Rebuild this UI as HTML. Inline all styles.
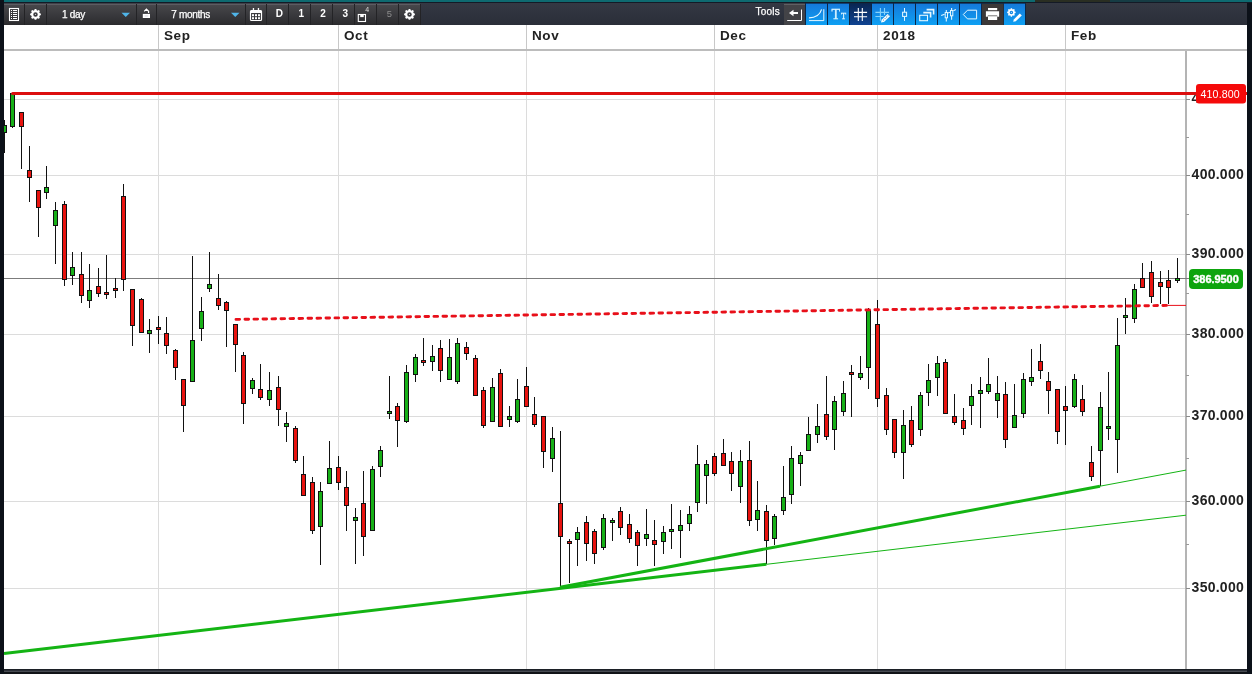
<!DOCTYPE html>
<html><head><meta charset="utf-8"><title>Chart</title><style>
*{margin:0;padding:0}
html,body{width:1252px;height:674px;overflow:hidden;background:#0c1119}
svg{position:absolute;left:0;top:0;display:block}
text{font-family:"Liberation Sans",Arial,sans-serif}
.dl{font-size:13.5px;font-weight:bold;fill:#222;letter-spacing:0.62px}
.yl{font-size:14px;font-weight:bold;fill:#222;letter-spacing:0.25px}
.rl{font-size:10.6px;fill:#fff;text-anchor:middle;letter-spacing:0.15px}
.gl{font-size:11px;font-weight:bold;fill:#fff;stroke:#fff;stroke-width:0.4px;text-anchor:middle;letter-spacing:-0.05px}
.tt{font-size:10px;fill:#fff;stroke:#fff;stroke-width:0.25px;letter-spacing:-0.3px}
.tb{font-size:10px;font-weight:bold;fill:#fff}
.t4{font-size:7px;fill:#ddd}
.t5{font-size:9.4px;fill:#8c8c8c}
.tT{font-family:"Liberation Serif",serif;font-size:14px;fill:#d8f4ff;stroke:#d8f4ff;stroke-width:0.35px}
.tt2{font-family:"Liberation Serif",serif;font-size:8.4px;fill:#d8f4ff;stroke:#d8f4ff;stroke-width:0.3px}
</style></head>
<body>
<svg width="1252" height="674" viewBox="0 0 1252 674">
<rect x="0" y="0" width="1252" height="674" fill="#0c1119"/>
<defs><linearGradient id="tg" x1="0" y1="0" x2="0" y2="1"><stop offset="0" stop-color="#49494d"/><stop offset="1" stop-color="#2b2b2e"/></linearGradient><linearGradient id="bg" x1="0" y1="0" x2="0" y2="1"><stop offset="0" stop-color="#1579da"/><stop offset="1" stop-color="#0ea0f3"/></linearGradient></defs><rect x="0" y="0" width="1252" height="2.2" fill="#0e6a70"/><rect x="1035" y="0" width="75" height="2" fill="#2a2e22"/><rect x="1110" y="0" width="70" height="2" fill="#163c44"/><rect x="0" y="2" width="1252" height="1.5" fill="#141a26"/><linearGradient id="sg" x1="0" y1="0" x2="0" y2="1"><stop offset="0" stop-color="#343843"/><stop offset="1" stop-color="#2a2e38"/></linearGradient><rect x="0" y="3" width="1252" height="22" fill="url(#sg)"/><rect x="4" y="3.5" width="416" height="21.5" fill="url(#tg)"/><rect x="4" y="4" width="416" height="1" fill="#5d5c62"/><rect x="24" y="4" width="1" height="21" fill="#232326"/><rect x="46" y="4" width="1" height="21" fill="#232326"/><rect x="136" y="4" width="1" height="21" fill="#232326"/><rect x="156" y="4" width="1" height="21" fill="#232326"/><rect x="245" y="4" width="1" height="21" fill="#232326"/><rect x="266" y="4" width="1" height="21" fill="#232326"/><rect x="288" y="4" width="1" height="21" fill="#232326"/><rect x="310" y="4" width="1" height="21" fill="#232326"/><rect x="332" y="4" width="1" height="21" fill="#232326"/><rect x="354" y="4" width="1" height="21" fill="#232326"/><rect x="376" y="4" width="1" height="21" fill="#232326"/><rect x="398" y="4" width="1" height="21" fill="#232326"/><rect x="420" y="4" width="1" height="21" fill="#232326"/><rect x="9.5" y="8.5" width="9" height="12" fill="none" stroke="#fff" stroke-width="1.1"/><rect x="11" y="10" width="1" height="1" fill="#fff"/><rect x="13" y="10" width="4" height="1" fill="#fff"/><rect x="11" y="12" width="1" height="1" fill="#fff"/><rect x="13" y="12" width="4" height="1" fill="#fff"/><rect x="11" y="14" width="1" height="1" fill="#fff"/><rect x="13" y="14" width="4" height="1" fill="#fff"/><rect x="11" y="16" width="1" height="1" fill="#fff"/><rect x="13" y="16" width="4" height="1" fill="#fff"/><rect x="11" y="18" width="1" height="1" fill="#fff"/><rect x="13" y="18" width="4" height="1" fill="#fff"/><path d="M34.80 9.01 L36.20 9.01 L37.04 10.67 L38.81 10.09 L39.81 11.09 L39.23 12.86 L40.89 13.70 L40.89 15.10 L39.23 15.94 L39.81 17.71 L38.81 18.71 L37.04 18.13 L36.20 19.79 L34.80 19.79 L33.96 18.13 L32.19 18.71 L31.19 17.71 L31.77 15.94 L30.11 15.10 L30.11 13.70 L31.77 12.86 L31.19 11.09 L32.19 10.09 L33.96 10.67 Z M37.74 14.40 A2.24 2.24 0 1 0 33.26 14.40 A2.24 2.24 0 1 0 37.74 14.40 Z" fill="#fff" fill-rule="evenodd"/><circle cx="35.5" cy="14.4" r="0.67" fill="#fff" opacity="0.7"/><path d="M408.80 9.01 L410.20 9.01 L411.04 10.67 L412.81 10.09 L413.81 11.09 L413.23 12.86 L414.89 13.70 L414.89 15.10 L413.23 15.94 L413.81 17.71 L412.81 18.71 L411.04 18.13 L410.20 19.79 L408.80 19.79 L407.96 18.13 L406.19 18.71 L405.19 17.71 L405.77 15.94 L404.11 15.10 L404.11 13.70 L405.77 12.86 L405.19 11.09 L406.19 10.09 L407.96 10.67 Z M411.74 14.40 A2.24 2.24 0 1 0 407.26 14.40 A2.24 2.24 0 1 0 411.74 14.40 Z" fill="#fff" fill-rule="evenodd"/><circle cx="409.5" cy="14.4" r="0.67" fill="#fff" opacity="0.7"/><text x="62" y="17.8" class="tt">1 day</text><path d="M121.5 12.8 L130 12.8 L125.75 17 Z" fill="#4fb4e8"/><rect x="142.8" y="13.9" width="7.2" height="4.1" fill="#fff"/><rect x="144.5" y="15.2" width="3.8" height="1.5" fill="#e4e4ea"/><path d="M144.2 11.4 L146.4 9.2 L148.6 11.2 V12.9" fill="none" stroke="#fff" stroke-width="1.2"/><text x="171.3" y="17.8" class="tt">7 months</text><path d="M231 12.8 L239.5 12.8 L235.25 17 Z" fill="#4fb4e8"/><rect x="250.5" y="10.5" width="11" height="10" rx="1" fill="none" stroke="#fff" stroke-width="1.2"/><rect x="250.5" y="10.5" width="11" height="2.5" fill="#fff"/><rect x="252.8" y="8" width="1.3" height="3.5" fill="#fff"/><rect x="257.8" y="8" width="1.3" height="3.5" fill="#fff"/><rect x="252" y="14.2" width="2" height="2" fill="#fff"/><rect x="252" y="17.2" width="2" height="2" fill="#fff"/><rect x="255" y="14.2" width="2" height="2" fill="#fff"/><rect x="255" y="17.2" width="2" height="2" fill="#fff"/><rect x="258" y="14.2" width="2" height="2" fill="#fff"/><rect x="258" y="17.2" width="2" height="2" fill="#fff"/><text x="275.8" y="17.3" class="tb">D</text><text x="298.6" y="17.3" class="tb">1</text><text x="320.2" y="17.3" class="tb">2</text><text x="342.5" y="17.3" class="tb">3</text><rect x="358.3" y="14.5" width="7.2" height="7" fill="none" stroke="#fff" stroke-width="1.1"/><rect x="360.2" y="14.5" width="3.5" height="2.6" fill="#fff"/><text x="365.3" y="11.6" class="t4">4</text><text x="386.8" y="17.3" class="t5">5</text><text x="755.6" y="14.8" class="tt" style="letter-spacing:0.2px">Tools</text><rect x="784" y="3.5" width="21" height="21.5" fill="#434347"/><rect x="784" y="4" width="21" height="1" fill="#606064"/><path d="M789 13 L793.5 9.8 V12 H798 V14 H793.5 V16.2 Z" fill="#fff"/><path d="M801.5 9.5 V20.5 H787.2" fill="none" stroke="#fff" stroke-width="1"/><rect x="805" y="3" width="221" height="22" fill="#0b2747"/><rect x="806" y="3.7" width="21" height="21.3" fill="url(#bg)"/><rect x="828" y="3.7" width="21" height="21.3" fill="url(#bg)"/><rect x="872" y="3.7" width="21" height="21.3" fill="url(#bg)"/><rect x="894" y="3.7" width="21" height="21.3" fill="url(#bg)"/><rect x="916" y="3.7" width="21" height="21.3" fill="url(#bg)"/><rect x="938" y="3.7" width="21" height="21.3" fill="url(#bg)"/><rect x="960" y="3.7" width="21" height="21.3" fill="url(#bg)"/><rect x="1004" y="3.7" width="21" height="21.3" fill="url(#bg)"/><linearGradient id="dg" x1="0" y1="0" x2="0" y2="1"><stop offset="0" stop-color="#0a2652"/><stop offset="1" stop-color="#0e4391"/></linearGradient><rect x="850" y="3.7" width="21" height="21.3" fill="url(#dg)"/><rect x="982" y="3.7" width="21.5" height="21.3" fill="#3b3838"/><path d="M809 17.8 C814.5 17.8 819.5 16.5 821.6 9.4" fill="none" stroke="#e6f8ff" stroke-width="1.2"/><path d="M823.8 9.2 V20.6 H809" fill="none" stroke="#e6f8ff" stroke-width="1"/><text x="831.6" y="19.2" class="tT">T</text><text x="841" y="19.2" class="tt2">T</text><path d="M858.3 8 V20.9 M862.3 8 V20.9 M854 12.4 H867.1 M854 16.8 H867.1" stroke="#fff" stroke-width="1.1" fill="none"/><path d="M880.4 8 V20.8 M884.5 8 V15 M875.4 12.4 H889 M875.4 16.5 H883.5" stroke="#86d2fb" stroke-width="1.1" fill="none"/><path d="M881 22.4 L881.6 19.8 L887.6 13.9 L890 16.2 L884 22 Z" fill="#f4fcff"/><path d="M883.2 20.4 L888 15.6" stroke="#1a4f7a" stroke-width="0.8" stroke-dasharray="1 1"/><path d="M904.5 8 V20.9" stroke="#e6f8ff" stroke-width="1" fill="none"/><rect x="902.6" y="12.2" width="4" height="4.2" fill="#1890e8" stroke="#e6f8ff" stroke-width="1"/><rect x="919.7" y="15.3" width="7.8" height="5.4" fill="none" stroke="#e6f8ff" stroke-width="1.1"/><path d="M923.3 12.6 H930.6 V17.6 M926.6 9.6 H933.6 V14.6" fill="none" stroke="#e6f8ff" stroke-width="1.6"/><path d="M946.3 10 V21.5 M951.6 8 V19.8" stroke="#e6f8ff" stroke-width="1.1" fill="none"/><rect x="945.2" y="12.5" width="2.3" height="5.3" fill="#1590e6" stroke="#e6f8ff" stroke-width="1"/><rect x="950.5" y="10.5" width="2.3" height="5.3" fill="#1590e6" stroke="#e6f8ff" stroke-width="1"/><path d="M941.2 15.6 L944.6 14.3 M948 13 L950 12.2 M953.4 10.8 L955.9 9.6" stroke="#e6f8ff" stroke-width="1.1" fill="none"/><path d="M963.3 14.5 L967.5 10.2 H976.6 V18.9 H967.5 Z" fill="none" stroke="#e6f8ff" stroke-width="1"/><rect x="988" y="8" width="9.2" height="2.2" fill="#fff"/><path d="M985.9 11.2 H999.1 V16.8 H997.2 V15.4 H987.8 V16.8 H985.9 Z" fill="#fff"/><rect x="988" y="16.2" width="9.2" height="3.8" fill="#fff"/><path d="M1010.85 8.17 L1011.95 8.17 L1012.61 9.47 L1014.00 9.02 L1014.78 9.80 L1014.33 11.19 L1015.63 11.85 L1015.63 12.95 L1014.33 13.61 L1014.78 15.00 L1014.00 15.78 L1012.61 15.33 L1011.95 16.63 L1010.85 16.63 L1010.19 15.33 L1008.80 15.78 L1008.02 15.00 L1008.47 13.61 L1007.17 12.95 L1007.17 11.85 L1008.47 11.19 L1008.02 9.80 L1008.80 9.02 L1010.19 9.47 Z M1013.16 12.40 A1.76 1.76 0 1 0 1009.64 12.40 A1.76 1.76 0 1 0 1013.16 12.40 Z" fill="#fff" fill-rule="evenodd"/><circle cx="1011.4" cy="12.4" r="0.53" fill="#fff" opacity="0.7"/><path d="M1013.2 21.8 L1013.8 19.4 L1019.8 13.6 L1021.8 15.4 L1015.8 21.2 Z" fill="#fff"/>
<clipPath id="c410"><rect x="1186" y="80" width="10.5" height="30"/></clipPath><rect x="4" y="25" width="1243" height="644" fill="#ffffff"/><rect x="4" y="49" width="1243" height="2" fill="#bcbcbc"/><rect x="158" y="25" width="1" height="24" fill="#c8c8c8"/><rect x="158" y="51" width="1" height="618" fill="#dcdcdc"/><text x="164" y="39.6" class="dl">Sep</text><rect x="338" y="25" width="1" height="24" fill="#c8c8c8"/><rect x="338" y="51" width="1" height="618" fill="#dcdcdc"/><text x="344" y="39.6" class="dl">Oct</text><rect x="526" y="25" width="1" height="24" fill="#c8c8c8"/><rect x="526" y="51" width="1" height="618" fill="#dcdcdc"/><text x="532" y="39.6" class="dl">Nov</text><rect x="714" y="25" width="1" height="24" fill="#c8c8c8"/><rect x="714" y="51" width="1" height="618" fill="#dcdcdc"/><text x="720" y="39.6" class="dl">Dec</text><rect x="877" y="25" width="1" height="24" fill="#c8c8c8"/><rect x="877" y="51" width="1" height="618" fill="#dcdcdc"/><text x="883" y="39.6" class="dl">2018</text><rect x="1065" y="25" width="1" height="24" fill="#c8c8c8"/><rect x="1065" y="51" width="1" height="618" fill="#dcdcdc"/><text x="1071" y="39.6" class="dl">Feb</text><rect x="4" y="99" width="1182" height="1" fill="#dcdcdc"/><rect x="4" y="175" width="1182" height="1" fill="#dcdcdc"/><rect x="4" y="254" width="1182" height="1" fill="#dcdcdc"/><rect x="4" y="334" width="1182" height="1" fill="#dcdcdc"/><rect x="4" y="416" width="1182" height="1" fill="#dcdcdc"/><rect x="4" y="501" width="1182" height="1" fill="#dcdcdc"/><rect x="4" y="588" width="1182" height="1" fill="#dcdcdc"/><rect x="1185" y="51" width="2" height="618" fill="#b4b4b4"/><rect x="1186" y="99" width="4" height="1" fill="#8a8a8a"/><text x="1191.6" y="103.0" class="yl" clip-path="url(#c410)">410.000</text><rect x="1186" y="175" width="4" height="1" fill="#8a8a8a"/><text x="1191.6" y="179.0" class="yl">400.000</text><rect x="1186" y="254" width="4" height="1" fill="#8a8a8a"/><text x="1191.6" y="258.0" class="yl">390.000</text><rect x="1186" y="334" width="4" height="1" fill="#8a8a8a"/><text x="1191.6" y="338.0" class="yl">380.000</text><rect x="1186" y="416" width="4" height="1" fill="#8a8a8a"/><text x="1191.6" y="420.0" class="yl">370.000</text><rect x="1186" y="501" width="4" height="1" fill="#8a8a8a"/><text x="1191.6" y="505.0" class="yl">360.000</text><rect x="1186" y="588" width="4" height="1" fill="#8a8a8a"/><text x="1191.6" y="592.0" class="yl">350.000</text><rect x="1186" y="137" width="3" height="1" fill="#9a9a9a"/><rect x="1186" y="214" width="3" height="1" fill="#9a9a9a"/><rect x="1186" y="293" width="3" height="1" fill="#9a9a9a"/><rect x="1186" y="375" width="3" height="1" fill="#9a9a9a"/><rect x="1186" y="458" width="3" height="1" fill="#9a9a9a"/><rect x="1186" y="544" width="3" height="1" fill="#9a9a9a"/><rect x="4" y="278" width="1186" height="1" fill="#7c7c7c"/><g shape-rendering="crispEdges"><rect x="4" y="120" width="1" height="33" fill="#111"/><rect x="2.5" y="125.5" width="4" height="7" fill="#17b017" stroke="#111" stroke-width="1"/><rect x="12" y="93" width="1" height="35" fill="#111"/><rect x="10.5" y="93.5" width="4" height="33" fill="#17b017" stroke="#111" stroke-width="1"/><rect x="21" y="112" width="1" height="57" fill="#111"/><rect x="19.5" y="112.5" width="4" height="14" fill="#e8130f" stroke="#111" stroke-width="1"/><rect x="29" y="146" width="1" height="56" fill="#111"/><rect x="27.5" y="170.5" width="4" height="7" fill="#e8130f" stroke="#111" stroke-width="1"/><rect x="38" y="190" width="1" height="47" fill="#111"/><rect x="36.5" y="190.5" width="4" height="17" fill="#e8130f" stroke="#111" stroke-width="1"/><rect x="46" y="166" width="1" height="33" fill="#111"/><rect x="44.5" y="187.5" width="4" height="5" fill="#17b017" stroke="#111" stroke-width="1"/><rect x="55" y="202" width="1" height="62" fill="#111"/><rect x="53.5" y="210.5" width="4" height="15" fill="#17b017" stroke="#111" stroke-width="1"/><rect x="64" y="201" width="1" height="85" fill="#111"/><rect x="62.5" y="204.5" width="4" height="75" fill="#e8130f" stroke="#111" stroke-width="1"/><rect x="72" y="252" width="1" height="33" fill="#111"/><rect x="70.5" y="267.5" width="4" height="8" fill="#17b017" stroke="#111" stroke-width="1"/><rect x="81" y="252" width="1" height="51" fill="#111"/><rect x="79.5" y="274.5" width="4" height="21" fill="#e8130f" stroke="#111" stroke-width="1"/><rect x="89" y="264" width="1" height="44" fill="#111"/><rect x="87.5" y="290.5" width="4" height="10" fill="#17b017" stroke="#111" stroke-width="1"/><rect x="98" y="268" width="1" height="29" fill="#111"/><rect x="96.5" y="286.5" width="4" height="7" fill="#e8130f" stroke="#111" stroke-width="1"/><rect x="106" y="255" width="1" height="44" fill="#111"/><rect x="104.5" y="292.5" width="4" height="2" fill="#e8130f" stroke="#111" stroke-width="1"/><rect x="115" y="278" width="1" height="20" fill="#111"/><rect x="113.5" y="288.5" width="4" height="2" fill="#e8130f" stroke="#111" stroke-width="1"/><rect x="123" y="184" width="1" height="107" fill="#111"/><rect x="121.5" y="196.5" width="4" height="83" fill="#e8130f" stroke="#111" stroke-width="1"/><rect x="132" y="289" width="1" height="57" fill="#111"/><rect x="130.5" y="289.5" width="4" height="36" fill="#e8130f" stroke="#111" stroke-width="1"/><rect x="141" y="298" width="1" height="35" fill="#111"/><rect x="139.5" y="299.5" width="4" height="33" fill="#e8130f" stroke="#111" stroke-width="1"/><rect x="149" y="319" width="1" height="34" fill="#111"/><rect x="147.5" y="330.5" width="4" height="3" fill="#17b017" stroke="#111" stroke-width="1"/><rect x="158" y="316" width="1" height="28" fill="#111"/><rect x="156.5" y="327.5" width="4" height="2" fill="#e8130f" stroke="#111" stroke-width="1"/><rect x="166" y="317" width="1" height="37" fill="#111"/><rect x="164.5" y="333.5" width="4" height="12" fill="#e8130f" stroke="#111" stroke-width="1"/><rect x="175" y="349" width="1" height="31" fill="#111"/><rect x="173.5" y="350.5" width="4" height="17" fill="#e8130f" stroke="#111" stroke-width="1"/><rect x="183" y="379" width="1" height="53" fill="#111"/><rect x="181.5" y="379.5" width="4" height="26" fill="#e8130f" stroke="#111" stroke-width="1"/><rect x="192" y="256" width="1" height="126" fill="#111"/><rect x="190.5" y="340.5" width="4" height="41" fill="#17b017" stroke="#111" stroke-width="1"/><rect x="201" y="297" width="1" height="44" fill="#111"/><rect x="199.5" y="311.5" width="4" height="17" fill="#17b017" stroke="#111" stroke-width="1"/><rect x="209" y="252" width="1" height="40" fill="#111"/><rect x="207.5" y="284.5" width="4" height="4" fill="#17b017" stroke="#111" stroke-width="1"/><rect x="218" y="274" width="1" height="36" fill="#111"/><rect x="216.5" y="298.5" width="4" height="7" fill="#e8130f" stroke="#111" stroke-width="1"/><rect x="226" y="301" width="1" height="46" fill="#111"/><rect x="224.5" y="302.5" width="4" height="8" fill="#e8130f" stroke="#111" stroke-width="1"/><rect x="235" y="324" width="1" height="48" fill="#111"/><rect x="233.5" y="324.5" width="4" height="20" fill="#e8130f" stroke="#111" stroke-width="1"/><rect x="243" y="352" width="1" height="72" fill="#111"/><rect x="241.5" y="355.5" width="4" height="48" fill="#e8130f" stroke="#111" stroke-width="1"/><rect x="252" y="378" width="1" height="16" fill="#111"/><rect x="250.5" y="380.5" width="4" height="8" fill="#17b017" stroke="#111" stroke-width="1"/><rect x="260" y="364" width="1" height="36" fill="#111"/><rect x="258.5" y="389.5" width="4" height="8" fill="#e8130f" stroke="#111" stroke-width="1"/><rect x="269" y="372" width="1" height="34" fill="#111"/><rect x="267.5" y="390.5" width="4" height="9" fill="#17b017" stroke="#111" stroke-width="1"/><rect x="278" y="376" width="1" height="50" fill="#111"/><rect x="276.5" y="387.5" width="4" height="22" fill="#e8130f" stroke="#111" stroke-width="1"/><rect x="286" y="412" width="1" height="30" fill="#111"/><rect x="284.5" y="423.5" width="4" height="3" fill="#17b017" stroke="#111" stroke-width="1"/><rect x="295" y="426" width="1" height="37" fill="#111"/><rect x="293.5" y="428.5" width="4" height="32" fill="#e8130f" stroke="#111" stroke-width="1"/><rect x="303" y="456" width="1" height="40" fill="#111"/><rect x="301.5" y="474.5" width="4" height="21" fill="#e8130f" stroke="#111" stroke-width="1"/><rect x="312" y="477" width="1" height="57" fill="#111"/><rect x="310.5" y="482.5" width="4" height="48" fill="#e8130f" stroke="#111" stroke-width="1"/><rect x="320" y="482" width="1" height="83" fill="#111"/><rect x="318.5" y="491.5" width="4" height="35" fill="#17b017" stroke="#111" stroke-width="1"/><rect x="329" y="441" width="1" height="43" fill="#111"/><rect x="327.5" y="468.5" width="4" height="15" fill="#17b017" stroke="#111" stroke-width="1"/><rect x="338" y="456" width="1" height="34" fill="#111"/><rect x="336.5" y="467.5" width="4" height="15" fill="#e8130f" stroke="#111" stroke-width="1"/><rect x="346" y="471" width="1" height="60" fill="#111"/><rect x="344.5" y="487.5" width="4" height="18" fill="#e8130f" stroke="#111" stroke-width="1"/><rect x="355" y="508" width="1" height="56" fill="#111"/><rect x="353.5" y="517.5" width="4" height="3" fill="#17b017" stroke="#111" stroke-width="1"/><rect x="363" y="471" width="1" height="85" fill="#111"/><rect x="361.5" y="503.5" width="4" height="33" fill="#e8130f" stroke="#111" stroke-width="1"/><rect x="372" y="466" width="1" height="65" fill="#111"/><rect x="370.5" y="469.5" width="4" height="61" fill="#17b017" stroke="#111" stroke-width="1"/><rect x="380" y="446" width="1" height="31" fill="#111"/><rect x="378.5" y="450.5" width="4" height="16" fill="#17b017" stroke="#111" stroke-width="1"/><rect x="389" y="376" width="1" height="43" fill="#111"/><rect x="387.5" y="411.5" width="4" height="2" fill="#17b017" stroke="#111" stroke-width="1"/><rect x="397" y="403" width="1" height="44" fill="#111"/><rect x="395.5" y="406.5" width="4" height="14" fill="#e8130f" stroke="#111" stroke-width="1"/><rect x="406" y="365" width="1" height="58" fill="#111"/><rect x="404.5" y="372.5" width="4" height="49" fill="#17b017" stroke="#111" stroke-width="1"/><rect x="415" y="354" width="1" height="28" fill="#111"/><rect x="413.5" y="357.5" width="4" height="17" fill="#17b017" stroke="#111" stroke-width="1"/><rect x="423" y="338" width="1" height="28" fill="#111"/><rect x="421.5" y="360.5" width="4" height="2" fill="#e8130f" stroke="#111" stroke-width="1"/><rect x="432" y="345" width="1" height="26" fill="#111"/><rect x="430.5" y="356.5" width="4" height="5" fill="#17b017" stroke="#111" stroke-width="1"/><rect x="440" y="340" width="1" height="42" fill="#111"/><rect x="438.5" y="348.5" width="4" height="22" fill="#e8130f" stroke="#111" stroke-width="1"/><rect x="449" y="339" width="1" height="41" fill="#111"/><rect x="447.5" y="357.5" width="4" height="22" fill="#17b017" stroke="#111" stroke-width="1"/><rect x="457" y="338" width="1" height="46" fill="#111"/><rect x="455.5" y="343.5" width="4" height="38" fill="#17b017" stroke="#111" stroke-width="1"/><rect x="466" y="342" width="1" height="18" fill="#111"/><rect x="464.5" y="347.5" width="4" height="6" fill="#e8130f" stroke="#111" stroke-width="1"/><rect x="475" y="355" width="1" height="41" fill="#111"/><rect x="473.5" y="358.5" width="4" height="37" fill="#e8130f" stroke="#111" stroke-width="1"/><rect x="483" y="387" width="1" height="41" fill="#111"/><rect x="481.5" y="390.5" width="4" height="35" fill="#e8130f" stroke="#111" stroke-width="1"/><rect x="492" y="378" width="1" height="44" fill="#111"/><rect x="490.5" y="387.5" width="4" height="34" fill="#17b017" stroke="#111" stroke-width="1"/><rect x="500" y="369" width="1" height="58" fill="#111"/><rect x="498.5" y="373.5" width="4" height="53" fill="#e8130f" stroke="#111" stroke-width="1"/><rect x="509" y="406" width="1" height="21" fill="#111"/><rect x="507.5" y="416.5" width="4" height="3" fill="#17b017" stroke="#111" stroke-width="1"/><rect x="517" y="379" width="1" height="44" fill="#111"/><rect x="515.5" y="399.5" width="4" height="22" fill="#17b017" stroke="#111" stroke-width="1"/><rect x="526" y="367" width="1" height="40" fill="#111"/><rect x="524.5" y="386.5" width="4" height="20" fill="#e8130f" stroke="#111" stroke-width="1"/><rect x="534" y="397" width="1" height="30" fill="#111"/><rect x="532.5" y="414.5" width="4" height="10" fill="#e8130f" stroke="#111" stroke-width="1"/><rect x="543" y="416" width="1" height="52" fill="#111"/><rect x="541.5" y="416.5" width="4" height="35" fill="#e8130f" stroke="#111" stroke-width="1"/><rect x="552" y="427" width="1" height="45" fill="#111"/><rect x="550.5" y="438.5" width="4" height="20" fill="#17b017" stroke="#111" stroke-width="1"/><rect x="560" y="431" width="1" height="155" fill="#111"/><rect x="558.5" y="503.5" width="4" height="33" fill="#e8130f" stroke="#111" stroke-width="1"/><rect x="569" y="539" width="1" height="44" fill="#111"/><rect x="567.5" y="541.5" width="4" height="2" fill="#e8130f" stroke="#111" stroke-width="1"/><rect x="577" y="527" width="1" height="39" fill="#111"/><rect x="575.5" y="532.5" width="4" height="7" fill="#17b017" stroke="#111" stroke-width="1"/><rect x="586" y="516" width="1" height="45" fill="#111"/><rect x="584.5" y="522.5" width="4" height="21" fill="#e8130f" stroke="#111" stroke-width="1"/><rect x="594" y="529" width="1" height="35" fill="#111"/><rect x="592.5" y="531.5" width="4" height="22" fill="#e8130f" stroke="#111" stroke-width="1"/><rect x="603" y="514" width="1" height="36" fill="#111"/><rect x="601.5" y="518.5" width="4" height="29" fill="#17b017" stroke="#111" stroke-width="1"/><rect x="612" y="518" width="1" height="23" fill="#111"/><rect x="610.5" y="520.5" width="4" height="2" fill="#17b017" stroke="#111" stroke-width="1"/><rect x="620" y="507" width="1" height="28" fill="#111"/><rect x="618.5" y="511.5" width="4" height="16" fill="#e8130f" stroke="#111" stroke-width="1"/><rect x="629" y="514" width="1" height="29" fill="#111"/><rect x="627.5" y="524.5" width="4" height="14" fill="#e8130f" stroke="#111" stroke-width="1"/><rect x="637" y="530" width="1" height="36" fill="#111"/><rect x="635.5" y="532.5" width="4" height="13" fill="#e8130f" stroke="#111" stroke-width="1"/><rect x="646" y="509" width="1" height="37" fill="#111"/><rect x="644.5" y="534.5" width="4" height="4" fill="#17b017" stroke="#111" stroke-width="1"/><rect x="654" y="520" width="1" height="46" fill="#111"/><rect x="652.5" y="540.5" width="4" height="4" fill="#e8130f" stroke="#111" stroke-width="1"/><rect x="663" y="526" width="1" height="28" fill="#111"/><rect x="661.5" y="532.5" width="4" height="9" fill="#17b017" stroke="#111" stroke-width="1"/><rect x="671" y="504" width="1" height="45" fill="#111"/><rect x="669.5" y="529.5" width="4" height="2" fill="#17b017" stroke="#111" stroke-width="1"/><rect x="680" y="510" width="1" height="48" fill="#111"/><rect x="678.5" y="525.5" width="4" height="5" fill="#17b017" stroke="#111" stroke-width="1"/><rect x="689" y="506" width="1" height="25" fill="#111"/><rect x="687.5" y="514.5" width="4" height="9" fill="#17b017" stroke="#111" stroke-width="1"/><rect x="697" y="445" width="1" height="67" fill="#111"/><rect x="695.5" y="464.5" width="4" height="38" fill="#17b017" stroke="#111" stroke-width="1"/><rect x="706" y="460" width="1" height="44" fill="#111"/><rect x="704.5" y="464.5" width="4" height="11" fill="#17b017" stroke="#111" stroke-width="1"/><rect x="714" y="453" width="1" height="23" fill="#111"/><rect x="712.5" y="456.5" width="4" height="17" fill="#e8130f" stroke="#111" stroke-width="1"/><rect x="723" y="439" width="1" height="27" fill="#111"/><rect x="721.5" y="453.5" width="4" height="12" fill="#e8130f" stroke="#111" stroke-width="1"/><rect x="731" y="452" width="1" height="39" fill="#111"/><rect x="729.5" y="461.5" width="4" height="12" fill="#e8130f" stroke="#111" stroke-width="1"/><rect x="740" y="450" width="1" height="53" fill="#111"/><rect x="738.5" y="461.5" width="4" height="25" fill="#17b017" stroke="#111" stroke-width="1"/><rect x="749" y="441" width="1" height="85" fill="#111"/><rect x="747.5" y="460.5" width="4" height="60" fill="#e8130f" stroke="#111" stroke-width="1"/><rect x="757" y="481" width="1" height="50" fill="#111"/><rect x="755.5" y="510.5" width="4" height="9" fill="#17b017" stroke="#111" stroke-width="1"/><rect x="766" y="505" width="1" height="59" fill="#111"/><rect x="764.5" y="511.5" width="4" height="29" fill="#e8130f" stroke="#111" stroke-width="1"/><rect x="774" y="514" width="1" height="31" fill="#111"/><rect x="772.5" y="516.5" width="4" height="22" fill="#17b017" stroke="#111" stroke-width="1"/><rect x="783" y="466" width="1" height="49" fill="#111"/><rect x="781.5" y="497.5" width="4" height="13" fill="#17b017" stroke="#111" stroke-width="1"/><rect x="791" y="446" width="1" height="58" fill="#111"/><rect x="789.5" y="458.5" width="4" height="36" fill="#17b017" stroke="#111" stroke-width="1"/><rect x="800" y="452" width="1" height="34" fill="#111"/><rect x="798.5" y="455.5" width="4" height="8" fill="#17b017" stroke="#111" stroke-width="1"/><rect x="808" y="417" width="1" height="34" fill="#111"/><rect x="806.5" y="434.5" width="4" height="16" fill="#17b017" stroke="#111" stroke-width="1"/><rect x="817" y="404" width="1" height="39" fill="#111"/><rect x="815.5" y="426.5" width="4" height="8" fill="#17b017" stroke="#111" stroke-width="1"/><rect x="826" y="376" width="1" height="64" fill="#111"/><rect x="824.5" y="414.5" width="4" height="22" fill="#e8130f" stroke="#111" stroke-width="1"/><rect x="834" y="396" width="1" height="54" fill="#111"/><rect x="832.5" y="401.5" width="4" height="28" fill="#17b017" stroke="#111" stroke-width="1"/><rect x="843" y="381" width="1" height="35" fill="#111"/><rect x="841.5" y="393.5" width="4" height="18" fill="#17b017" stroke="#111" stroke-width="1"/><rect x="851" y="365" width="1" height="52" fill="#111"/><rect x="849.5" y="372.5" width="4" height="2" fill="#e8130f" stroke="#111" stroke-width="1"/><rect x="860" y="356" width="1" height="24" fill="#111"/><rect x="858.5" y="373.5" width="4" height="4" fill="#17b017" stroke="#111" stroke-width="1"/><rect x="868" y="308" width="1" height="81" fill="#111"/><rect x="866.5" y="310.5" width="4" height="57" fill="#17b017" stroke="#111" stroke-width="1"/><rect x="877" y="300" width="1" height="107" fill="#111"/><rect x="875.5" y="324.5" width="4" height="74" fill="#e8130f" stroke="#111" stroke-width="1"/><rect x="886" y="388" width="1" height="47" fill="#111"/><rect x="884.5" y="395.5" width="4" height="34" fill="#e8130f" stroke="#111" stroke-width="1"/><rect x="894" y="419" width="1" height="39" fill="#111"/><rect x="892.5" y="419.5" width="4" height="33" fill="#e8130f" stroke="#111" stroke-width="1"/><rect x="903" y="410" width="1" height="69" fill="#111"/><rect x="901.5" y="425.5" width="4" height="27" fill="#17b017" stroke="#111" stroke-width="1"/><rect x="911" y="406" width="1" height="41" fill="#111"/><rect x="909.5" y="420.5" width="4" height="24" fill="#e8130f" stroke="#111" stroke-width="1"/><rect x="920" y="392" width="1" height="44" fill="#111"/><rect x="918.5" y="395.5" width="4" height="34" fill="#17b017" stroke="#111" stroke-width="1"/><rect x="928" y="364" width="1" height="42" fill="#111"/><rect x="926.5" y="380.5" width="4" height="12" fill="#17b017" stroke="#111" stroke-width="1"/><rect x="937" y="356" width="1" height="40" fill="#111"/><rect x="935.5" y="363.5" width="4" height="14" fill="#17b017" stroke="#111" stroke-width="1"/><rect x="945" y="359" width="1" height="55" fill="#111"/><rect x="943.5" y="362.5" width="4" height="51" fill="#e8130f" stroke="#111" stroke-width="1"/><rect x="954" y="394" width="1" height="31" fill="#111"/><rect x="952.5" y="416.5" width="4" height="6" fill="#e8130f" stroke="#111" stroke-width="1"/><rect x="963" y="408" width="1" height="27" fill="#111"/><rect x="961.5" y="420.5" width="4" height="8" fill="#e8130f" stroke="#111" stroke-width="1"/><rect x="971" y="384" width="1" height="41" fill="#111"/><rect x="969.5" y="396.5" width="4" height="9" fill="#17b017" stroke="#111" stroke-width="1"/><rect x="980" y="377" width="1" height="51" fill="#111"/><rect x="978.5" y="390.5" width="4" height="3" fill="#17b017" stroke="#111" stroke-width="1"/><rect x="988" y="358" width="1" height="36" fill="#111"/><rect x="986.5" y="384.5" width="4" height="7" fill="#17b017" stroke="#111" stroke-width="1"/><rect x="997" y="376" width="1" height="42" fill="#111"/><rect x="995.5" y="393.5" width="4" height="7" fill="#17b017" stroke="#111" stroke-width="1"/><rect x="1005" y="382" width="1" height="66" fill="#111"/><rect x="1003.5" y="394.5" width="4" height="45" fill="#e8130f" stroke="#111" stroke-width="1"/><rect x="1014" y="384" width="1" height="44" fill="#111"/><rect x="1012.5" y="415.5" width="4" height="12" fill="#17b017" stroke="#111" stroke-width="1"/><rect x="1023" y="373" width="1" height="45" fill="#111"/><rect x="1021.5" y="379.5" width="4" height="34" fill="#17b017" stroke="#111" stroke-width="1"/><rect x="1031" y="349" width="1" height="37" fill="#111"/><rect x="1029.5" y="377.5" width="4" height="4" fill="#17b017" stroke="#111" stroke-width="1"/><rect x="1040" y="344" width="1" height="35" fill="#111"/><rect x="1038.5" y="361.5" width="4" height="9" fill="#e8130f" stroke="#111" stroke-width="1"/><rect x="1048" y="372" width="1" height="42" fill="#111"/><rect x="1046.5" y="381.5" width="4" height="9" fill="#e8130f" stroke="#111" stroke-width="1"/><rect x="1057" y="389" width="1" height="55" fill="#111"/><rect x="1055.5" y="389.5" width="4" height="42" fill="#e8130f" stroke="#111" stroke-width="1"/><rect x="1065" y="386" width="1" height="59" fill="#111"/><rect x="1063.5" y="406.5" width="4" height="4" fill="#e8130f" stroke="#111" stroke-width="1"/><rect x="1074" y="374" width="1" height="34" fill="#111"/><rect x="1072.5" y="379.5" width="4" height="27" fill="#17b017" stroke="#111" stroke-width="1"/><rect x="1082" y="385" width="1" height="31" fill="#111"/><rect x="1080.5" y="399.5" width="4" height="12" fill="#e8130f" stroke="#111" stroke-width="1"/><rect x="1091" y="446" width="1" height="35" fill="#111"/><rect x="1089.5" y="462.5" width="4" height="14" fill="#e8130f" stroke="#111" stroke-width="1"/><rect x="1100" y="392" width="1" height="94" fill="#111"/><rect x="1098.5" y="407.5" width="4" height="43" fill="#17b017" stroke="#111" stroke-width="1"/><rect x="1108" y="372" width="1" height="68" fill="#111"/><rect x="1106.5" y="426.5" width="4" height="2" fill="#17b017" stroke="#111" stroke-width="1"/><rect x="1117" y="318" width="1" height="155" fill="#111"/><rect x="1115.5" y="345.5" width="4" height="94" fill="#17b017" stroke="#111" stroke-width="1"/><rect x="1125" y="298" width="1" height="36" fill="#111"/><rect x="1123.5" y="315.5" width="4" height="2" fill="#17b017" stroke="#111" stroke-width="1"/><rect x="1134" y="284" width="1" height="39" fill="#111"/><rect x="1132.5" y="289.5" width="4" height="29" fill="#17b017" stroke="#111" stroke-width="1"/><rect x="1142" y="263" width="1" height="25" fill="#111"/><rect x="1140.5" y="278.5" width="4" height="9" fill="#e8130f" stroke="#111" stroke-width="1"/><rect x="1151" y="261" width="1" height="42" fill="#111"/><rect x="1149.5" y="272.5" width="4" height="24" fill="#e8130f" stroke="#111" stroke-width="1"/><rect x="1160" y="271" width="1" height="33" fill="#111"/><rect x="1158.5" y="282.5" width="4" height="4" fill="#e8130f" stroke="#111" stroke-width="1"/><rect x="1168" y="270" width="1" height="34" fill="#111"/><rect x="1166.5" y="280.5" width="4" height="7" fill="#e8130f" stroke="#111" stroke-width="1"/><rect x="1177" y="258" width="1" height="25" fill="#111"/><rect x="1175.5" y="278.5" width="4" height="2" fill="#17b017" stroke="#111" stroke-width="1"/></g><line x1="4" y1="653.5" x2="766.4" y2="564.3" stroke="#14b414" stroke-width="3"/><line x1="766.4" y1="564.3" x2="1186" y2="515.2" stroke="#14b414" stroke-width="1"/><line x1="560" y1="587.3" x2="1100" y2="486.2" stroke="#14b414" stroke-width="3"/><line x1="1100" y1="486.2" x2="1186" y2="470.1" stroke="#14b414" stroke-width="1"/><line x1="236" y1="319.4" x2="1167.5" y2="305.4" stroke="#e8101a" stroke-width="2.9" stroke-linecap="round" stroke-dasharray="3.6 5.4"/><line x1="1167.5" y1="305.4" x2="1186" y2="305.4" stroke="#e8101a" stroke-width="1"/><line x1="12.6" y1="93.5" x2="1247" y2="93.5" stroke="#dc0e0e" stroke-width="3" stroke-linecap="round"/><rect x="1196" y="84" width="50" height="19.6" rx="3" fill="#f50a0a"/><text x="1220.2" y="98.1" class="rl">410.800</text><rect x="1189" y="269" width="54" height="20" rx="4" fill="#0da40d"/><text x="1216" y="283" class="gl">386.9500</text>
<rect x="4" y="669" width="1243" height="1" fill="#1c2026"/><rect x="4" y="670" width="1243" height="1" fill="#2c3038"/><rect x="4" y="671" width="1243" height="1" fill="#474b52"/><rect x="4" y="672" width="1243" height="2" fill="#101317"/>
<rect x="0" y="0" width="4" height="674" fill="#0c1119"/>
<rect x="1247" y="3" width="5" height="671" fill="#0c1119"/>
</svg>
</body></html>
